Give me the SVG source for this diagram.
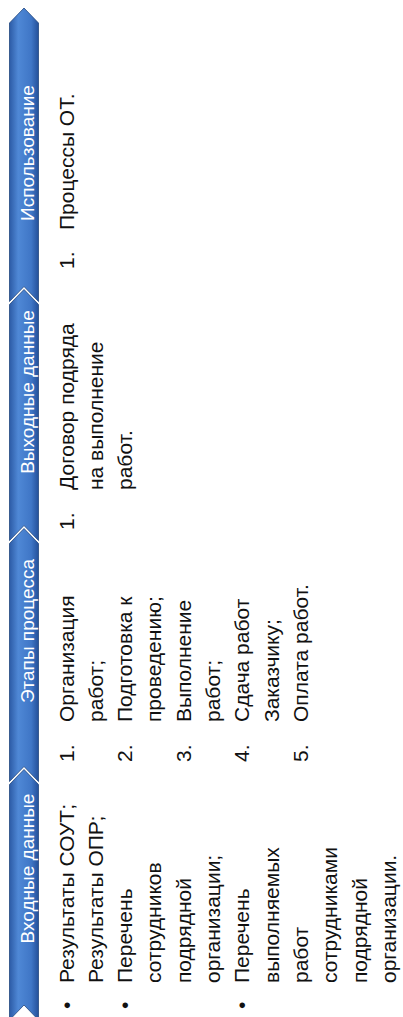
<svg xmlns="http://www.w3.org/2000/svg" width="403" height="1017" viewBox="0 0 403 1017">
  <defs>
    <linearGradient id="barGrad" x1="0" y1="0" x2="0" y2="1">
      <stop offset="0" stop-color="#2c5ba6"/>
      <stop offset="0.3" stop-color="#4f88d6"/>
      <stop offset="0.75" stop-color="#3f76c6"/>
      <stop offset="1" stop-color="#24509a"/>
    </linearGradient>
    <style>
      .seg { fill: url(#barGrad); stroke: #22487f; stroke-width: 0.8; stroke-linejoin: miter; }
      .hdr { font-family: "Liberation Sans", Arial, sans-serif; font-size: 19px; fill: #ffffff; text-anchor: middle; }
      .txt { font-family: "Liberation Sans", Arial, sans-serif; font-size: 21px; fill: #111111; }
    </style>
  </defs>
  <rect x="0" y="0" width="403" height="1017" fill="#ffffff"/>
  <g transform="translate(0,1017) rotate(-90)">
    <g id="stage-input">
      <polygon class="seg" points="-3,9.5 232.5,9.5 247.5,24 232.5,38.5 -3,38.5 12,24"/>
      <text class="hdr" x="148.5" y="33.5">Входные данные</text>
      <text class="txt" x="8" y="73.5">•</text>
      <text class="txt" x="34" y="73.5">Результаты СОУТ;</text>
      <text class="txt" x="34" y="102.8">Результаты ОПР;</text>
      <text class="txt" x="8" y="132.1">•</text>
      <text class="txt" x="34" y="132.1">Перечень</text>
      <text class="txt" x="34" y="161.4">сотрудников</text>
      <text class="txt" x="34" y="190.7">подрядной</text>
      <text class="txt" x="34" y="220">организации;</text>
      <text class="txt" x="8" y="249.3">•</text>
      <text class="txt" x="34" y="249.3">Перечень</text>
      <text class="txt" x="34" y="278.6">выполняемых</text>
      <text class="txt" x="34" y="307.9">работ</text>
      <text class="txt" x="34" y="337.2">сотрудниками</text>
      <text class="txt" x="34" y="366.5">подрядной</text>
      <text class="txt" x="34" y="395.8">организации.</text>
    </g>
    <g id="stage-process">
      <polygon class="seg" points="235.5,9.5 473.5,9.5 488.5,24 473.5,38.5 235.5,38.5 250.5,24"/>
      <text class="hdr" x="386" y="33.5">Этапы процесса</text>
      <text class="txt" x="255" y="73.5">1.</text>
      <text class="txt" x="295" y="73.5">Организация</text>
      <text class="txt" x="295" y="102.8">работ;</text>
      <text class="txt" x="255" y="132.1">2.</text>
      <text class="txt" x="295" y="132.1">Подготовка к</text>
      <text class="txt" x="295" y="161.4">проведению;</text>
      <text class="txt" x="255" y="190.7">3.</text>
      <text class="txt" x="295" y="190.7">Выполнение</text>
      <text class="txt" x="295" y="220">работ;</text>
      <text class="txt" x="255" y="249.3">4.</text>
      <text class="txt" x="295" y="249.3">Сдача работ</text>
      <text class="txt" x="295" y="278.6">Заказчику;</text>
      <text class="txt" x="255" y="307.9">5.</text>
      <text class="txt" x="295" y="307.9">Оплата работ.</text>
    </g>
    <g id="stage-output">
      <polygon class="seg" points="476.5,9.5 712.5,9.5 727.5,24 712.5,38.5 476.5,38.5 491.5,24"/>
      <text class="hdr" x="625" y="33.5">Выходные данные</text>
      <text class="txt" x="487" y="73.5">1.</text>
      <text class="txt" x="527" y="73.5">Договор подряда</text>
      <text class="txt" x="527" y="102.8">на выполнение</text>
      <text class="txt" x="527" y="132.1">работ.</text>
    </g>
    <g id="stage-usage">
      <polygon class="seg" points="715.5,9.5 994,9.5 1009,24 994,38.5 715.5,38.5 730.5,24"/>
      <text class="hdr" x="864" y="33.5">Использование</text>
      <text class="txt" x="748" y="73.5">1.</text>
      <text class="txt" x="787" y="73.5">Процессы ОТ.</text>
    </g>
  </g>
</svg>
